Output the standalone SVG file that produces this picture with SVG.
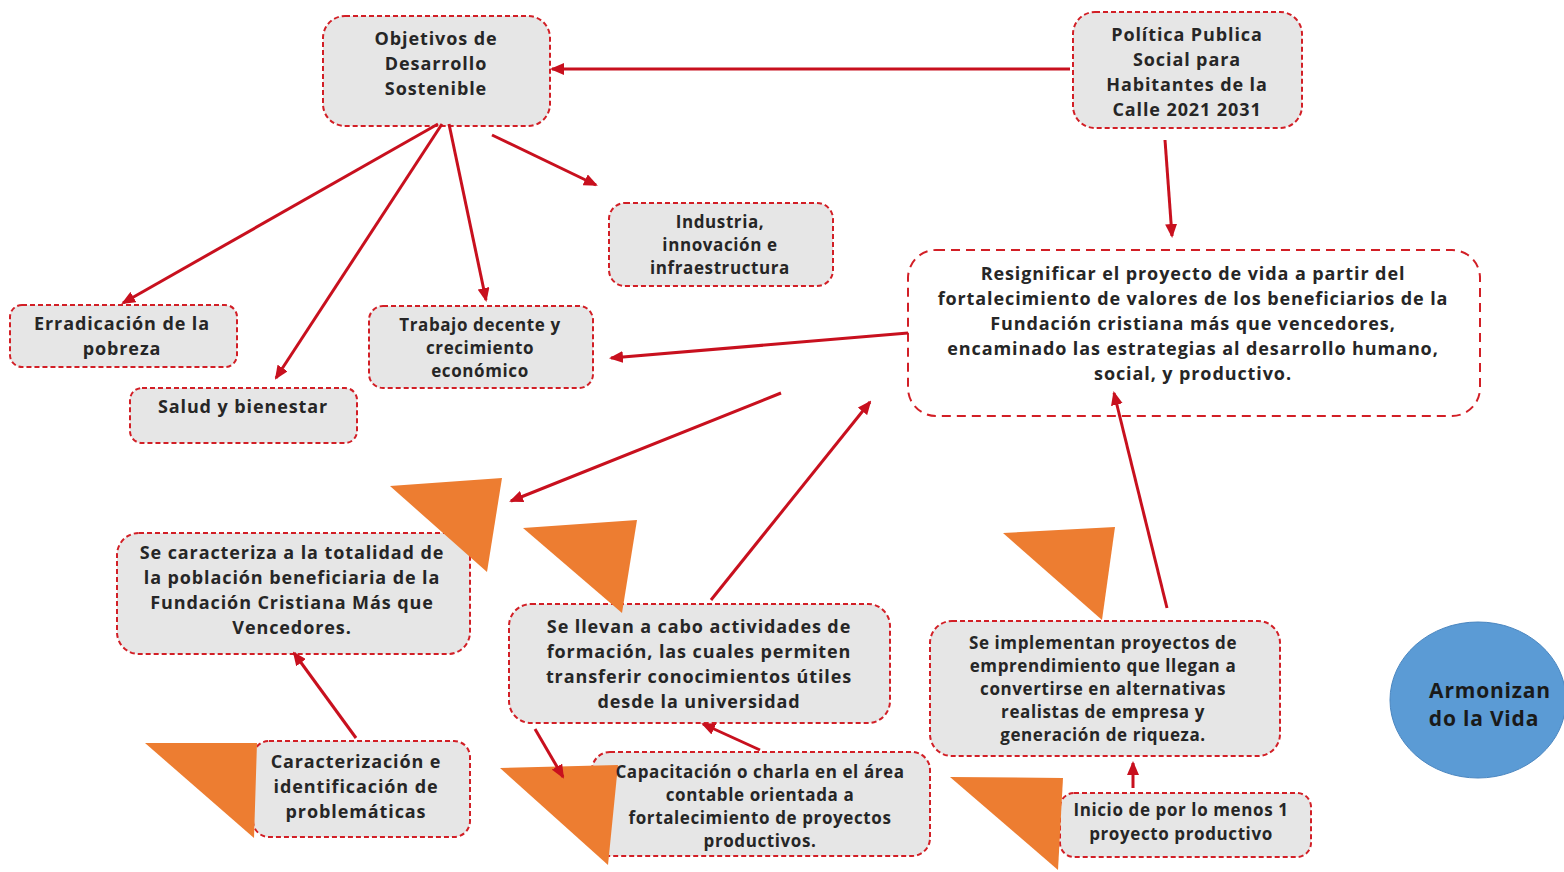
<svg xmlns="http://www.w3.org/2000/svg" width="1564" height="872" viewBox="0 0 1564 872">
<style>
.box{fill:#e6e6e6;stroke:#d21f26;stroke-width:2;stroke-dasharray:5 3}
.wbox{fill:#ffffff;stroke:#d21f26;stroke-width:2;stroke-dasharray:9 6}
.tri{fill:#ed7d31}
text{font-family:"Open Sans","Liberation Sans",sans-serif;font-weight:bold;fill:#262626;text-anchor:middle}
.t18{font-size:18px;letter-spacing:0.9px}
.t17{font-size:17px;letter-spacing:0.6px}
.con{stroke:#c8101e;stroke-width:3;fill:none;marker-end:url(#ah)}
</style>
<defs>
<marker id="ah" markerUnits="userSpaceOnUse" markerWidth="14" markerHeight="12" refX="12" refY="6" orient="auto">
<path d="M0,0 L14,6 L0,12 z" fill="#c8101e"/>
</marker>
</defs>
<rect width="1564" height="872" fill="#ffffff"/>

<g id="n-objetivos">
<rect class="box" x="323" y="16" width="227" height="110" rx="22"/>
<text class="t18" x="436" y="45">Objetivos de</text>
<text class="t18" x="436" y="70">Desarrollo</text>
<text class="t18" x="436" y="95">Sostenible</text>
</g>
<g id="n-politica">
<rect class="box" x="1073" y="12" width="229" height="116" rx="22"/>
<text class="t18" x="1187" y="41">Política Publica</text>
<text class="t18" x="1187" y="66">Social para</text>
<text class="t18" x="1187" y="91">Habitantes de la</text>
<text class="t18" x="1187" y="116">Calle 2021 2031</text>
</g>
<g id="n-industria">
<rect class="box" x="609" y="203" width="224" height="83" rx="16"/>
<text class="t17" x="720" y="228">Industria,</text>
<text class="t17" x="720" y="251">innovación e</text>
<text class="t17" x="720" y="274">infraestructura</text>
</g>
<g id="n-resignificar">
<rect class="wbox" x="908" y="250" width="572" height="166" rx="28"/>
<text class="t18" x="1193" y="280">Resignificar el proyecto de vida a partir del</text>
<text class="t18" x="1193" y="305">fortalecimiento de valores de los beneficiarios de la</text>
<text class="t18" x="1193" y="330">Fundación cristiana más que vencedores,</text>
<text class="t18" x="1193" y="355">encaminado las estrategias al desarrollo humano,</text>
<text class="t18" x="1193" y="380">social, y productivo.</text>
</g>
<g id="n-erradicacion">
<rect class="box" x="10" y="305" width="227" height="62" rx="12"/>
<text class="t18" x="122" y="330">Erradicación de la</text>
<text class="t18" x="122" y="355">pobreza</text>
</g>
<g id="n-salud">
<rect class="box" x="130" y="388" width="227" height="55" rx="12"/>
<text class="t18" x="243" y="413">Salud y bienestar</text>
</g>
<g id="n-trabajo">
<rect class="box" x="369" y="306" width="224" height="82" rx="14"/>
<text class="t17" x="480" y="331">Trabajo decente y</text>
<text class="t17" x="480" y="354">crecimiento</text>
<text class="t17" x="480" y="377">económico</text>
</g>
<g id="n-caracteriza">
<rect class="box" x="117" y="533" width="353" height="121" rx="22"/>
<polygon class="tri" points="390,486 502,478 487,572"/>
<text class="t18" x="292" y="559">Se caracteriza a la totalidad de</text>
<text class="t18" x="292" y="584">la población beneficiaria de la</text>
<text class="t18" x="292" y="609">Fundación Cristiana Más que</text>
<text class="t18" x="292" y="634">Vencedores.</text>
</g>
<g id="n-llevan">
<rect class="box" x="509" y="604" width="381" height="119" rx="22"/>
<polygon class="tri" points="523,528 637,520 622,613"/>
<text class="t18" x="699" y="633">Se llevan a cabo actividades de</text>
<text class="t18" x="699" y="658">formación, las cuales permiten</text>
<text class="t18" x="699" y="683">transferir conocimientos útiles</text>
<text class="t18" x="699" y="708">desde la universidad</text>
</g>
<g id="n-implementan">
<rect class="box" x="930" y="621" width="350" height="135" rx="22"/>
<polygon class="tri" points="1003,533 1115,527 1102,620"/>
<text class="t17" x="1103" y="649">Se implementan proyectos de</text>
<text class="t17" x="1103" y="672">emprendimiento que llegan a</text>
<text class="t17" x="1103" y="695">convertirse en alternativas</text>
<text class="t17" x="1103" y="718">realistas de empresa y</text>
<text class="t17" x="1103" y="741">generación de riqueza.</text>
</g>
<g id="n-caracterizacion">
<rect class="box" x="253" y="741" width="217" height="96" rx="16"/>
<polygon class="tri" points="145,743 257,743 254,838"/>
<text class="t18" x="356" y="768">Caracterización e</text>
<text class="t18" x="356" y="793">identificación de</text>
<text class="t18" x="356" y="818">problemáticas</text>
</g>
<g id="n-capacitacion">
<rect class="box" x="592" y="752" width="338" height="104" rx="18"/>
<polygon class="tri" points="500,768 618,765 608,865"/>
<text class="t17" x="760" y="778">Capacitación o charla en el área</text>
<text class="t17" x="760" y="801">contable orientada a</text>
<text class="t17" x="760" y="824">fortalecimiento de proyectos</text>
<text class="t17" x="760" y="847">productivos.</text>
</g>
<g id="n-inicio">
<rect class="box" x="1060" y="793" width="251" height="64" rx="14"/>
<polygon class="tri" points="950,777 1063,778 1058,870"/>
<text class="t17" x="1181" y="816">Inicio de por lo menos 1</text>
<text class="t17" x="1181" y="840">proyecto productivo</text>
</g>
<g id="n-armonizando">
<ellipse cx="1478" cy="700" rx="88" ry="78" fill="#5b9bd5" stroke="#4a86c0" stroke-width="1"/>
<text x="1490" y="698" style="font-size:21px;letter-spacing:0.8px;fill:#1a1a1a">Armonizan</text>
<text x="1484" y="726" style="font-size:21px;letter-spacing:0.8px;fill:#1a1a1a">do la Vida</text>
</g>

<g id="connectors">
<line class="con" x1="1070" y1="69" x2="552" y2="69"/>
<line class="con" x1="438" y1="124" x2="123" y2="303"/>
<line class="con" x1="442" y1="124" x2="276" y2="378"/>
<line class="con" x1="449" y1="124" x2="486" y2="300"/>
<line class="con" x1="492" y1="135" x2="596" y2="185"/>
<line class="con" x1="1165" y1="140" x2="1172" y2="236"/>
<line class="con" x1="908" y1="333" x2="611" y2="358"/>
<line class="con" x1="781" y1="393" x2="511" y2="501"/>
<line class="con" x1="711" y1="600" x2="870" y2="402"/>
<line class="con" x1="1167" y1="608" x2="1114" y2="393"/>
<line class="con" x1="356" y1="738" x2="294" y2="653"/>
<line class="con" x1="535" y1="729" x2="563" y2="777"/>
<line class="con" x1="760" y1="750" x2="703" y2="724"/>
<line class="con" x1="1133" y1="788" x2="1133" y2="763"/>
</g>
</svg>
